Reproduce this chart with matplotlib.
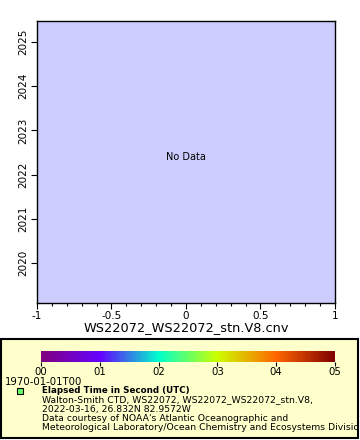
import matplotlib
matplotlib.use('Agg')
import matplotlib.pyplot as plt
from matplotlib.colors import LinearSegmentedColormap, Normalize
from matplotlib.cm import ScalarMappable
from matplotlib.patches import Rectangle
from matplotlib.ticker import MultipleLocator
from matplotlib.transforms import Bbox, TransformedBbox

# axis ranges (no data in this file)
x_range = [-1, 1]
x_ticks = [-1, -0.5, 0, 0.5, 1]
x_ticklabels = ['-1', '-0.5', '0', '0.5', '1']
y_range = [2019.1, 2025.47]
y_ticks = [2020, 2021, 2022, 2023, 2024, 2025]
y_ticklabels = ['2020', '2021', '2022', '2023', '2024', '2025']

cbar_range = [0, 5]
cbar_ticks = [0, 1, 2, 3, 4, 5]
cbar_ticklabels = ['00', '01', '02', '03', '04', '05']
palette = ['#800080', '#6600ff', '#00ffcc', '#ccff00', '#ff6600', '#800000']

x_title = 'WS22072_WS22072_stn.V8.cnv'
time_origin = '1970-01-01T00'
legend_title = 'Elapsed Time in Second (UTC)'
legend_lines = [
    'Walton-Smith CTD, WS22072, WS22072_WS22072_stn.V8,',
    '2022-03-16, 26.832N 82.9572W',
    "Data courtesy of NOAA's Atlantic Oceanographic and",
    'Meteorological Laboratory/Ocean Chemistry and Ecosystems Division',
]

W, H = 360, 440
fig = plt.figure(figsize=(3.6, 4.4), dpi=100)

# main plot
ax = fig.add_axes([37/W, 1 - 303/H, 298/W, 282/H])
ax.set_facecolor('#ccccff')
ax.set_xlim(x_range)
ax.set_ylim(y_range)
ax.set_xticks(x_ticks)
ax.set_xticklabels(x_ticklabels)
ax.xaxis.set_minor_locator(MultipleLocator(0.1))
ax.set_yticks(y_ticks)
ax.set_yticklabels(y_ticklabels, rotation=90, va='center')
ax.tick_params(labelsize=7.5, length=4, width=0.8, pad=2)
ax.tick_params(axis='x', which='minor', length=2, width=0.8)
ax.set_xlabel(x_title, fontsize=9.3, labelpad=0)
for s in ax.spines.values():
    s.set_linewidth(1)
ax.text(0.5, 0.517, 'No Data', fontsize=7, ha='center', va='center',
        transform=ax.transAxes)

# legend box
fig.patches.append(Rectangle((0.5/W, 1 - 438/H), 357/W, 99/H,
                             transform=fig.transFigure, facecolor='#ffffcc',
                             edgecolor='black', linewidth=1.5, zorder=-1))
clip = TransformedBbox(Bbox([[0, 0], [357/W, 1]]), fig.transFigure)

# colour bar
cmap = LinearSegmentedColormap.from_list('rainbow2', palette)
cax = fig.add_axes([41/W, 1 - 362/H, 294/W, 11/H])
sm = ScalarMappable(norm=Normalize(*cbar_range), cmap=cmap)
cb = fig.colorbar(sm, cax=cax, orientation='horizontal')
cb.outline.set_visible(False)
cb.set_ticks(cbar_ticks)
cb.set_ticklabels(cbar_ticklabels)
cax.tick_params(labelsize=7.3, length=3, width=0.8, pad=0.3)

fig.text(5/W, 1 - 381.5/H, time_origin, fontsize=7.3, va='center', ha='left')
fig.add_artist(plt.Line2D([20/W], [1 - 391/H], marker='s', markersize=4.5,
                          markerfacecolor='#66ff66', markeredgecolor='black',
                          markeredgewidth=0.8, transform=fig.transFigure))
fig.text(42/W, 1 - 390.5/H, legend_title, fontsize=6.3, fontweight='bold',
         va='center', ha='left')
for i, line in enumerate(legend_lines):
    t = fig.text(42/W, 1 - (400 + 9.3 * i)/H, line, fontsize=6.7,
                 va='center', ha='left')
    t.set_clip_box(clip)
    t.set_clip_on(True)

fig.savefig('out.png', dpi=100)
